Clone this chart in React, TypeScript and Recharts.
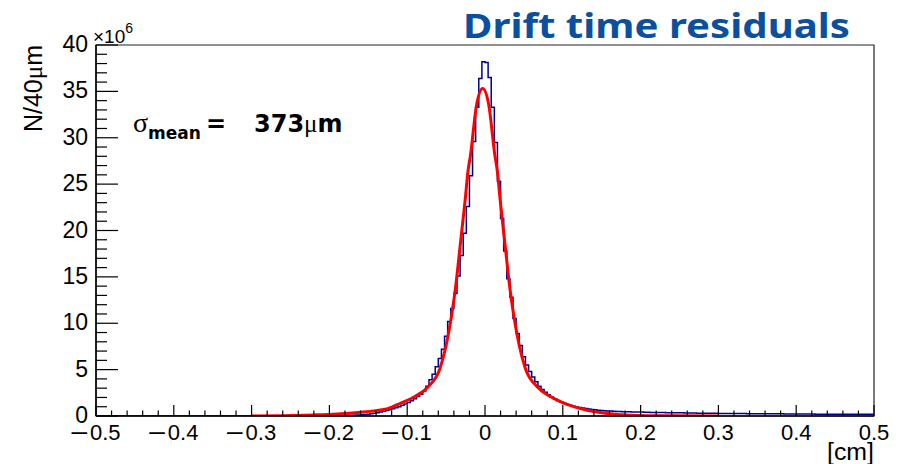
import React from 'react'
import { ComposedChart, Line, XAxis, YAxis, ReferenceArea } from 'recharts'

// histogram: 250 bins of 40um from -0.5 to 0.5 cm, counts in units of 1e6
const binWidth = 0.004
const histStart = -0.5
const histCounts = [
  0, 0, 0, 0, 0, 0, 0, 0, 0, 0,
  0, 0, 0, 0, 0, 0, 0, 0, 0, 0,
  0, 0, 0, 0, 0, 0, 0, 0, 0, 0,
  0, 0, 0, 0, 0, 0, 0, 0, 0, 0,
  0, 0, 0, 0, 0, 0, 0, 0, 0, 0,
  0, 0, 0, 0, 0, 0, 0, 0, 0, 0,
  0.01, 0.01, 0.01, 0.01, 0.01, 0.01, 0.01, 0.01, 0.01, 0.01,
  0.02, 0.02, 0.02, 0.02, 0.02, 0.03, 0.03, 0.04, 0.04, 0.05,
  0.06, 0.07, 0.08, 0.1, 0.12, 0.14, 0.17, 0.2, 0.24, 0.29,
  0.35, 0.42, 0.5, 0.58, 0.68, 0.78, 0.88, 1.0, 1.15, 1.3,
  1.45, 1.65, 1.85, 2.1, 2.35, 2.7, 3.2, 3.9, 4.5, 5.3,
  6.2, 7.2, 8.6, 10.2, 11.6, 13.2, 15.1, 17.3, 19.7, 22.6,
  25.9, 29.6, 33.3, 36.4, 38.2, 38.1, 36.5, 33.3, 29.5, 25.3,
  21.3, 17.8, 14.8, 12.8, 10.5, 8.9, 7.6, 6.4, 5.5, 4.8,
  4.2, 3.7, 3.2, 2.85, 2.55, 2.3, 2.05, 1.85, 1.65, 1.5,
  1.36, 1.25, 1.15, 1.06, 0.98, 0.91, 0.85, 0.8, 0.75, 0.71,
  0.67, 0.63, 0.6, 0.57, 0.55, 0.53, 0.51, 0.49, 0.48, 0.47,
  0.46, 0.45, 0.44, 0.43, 0.42, 0.42, 0.41, 0.4, 0.39, 0.39,
  0.38, 0.37, 0.37, 0.36, 0.36, 0.35, 0.35, 0.34, 0.34, 0.33,
  0.33, 0.32, 0.32, 0.31, 0.31, 0.3, 0.3, 0.3, 0.29, 0.29,
  0.28, 0.28, 0.28, 0.27, 0.27, 0.27, 0.26, 0.26, 0.26, 0.25,
  0.25, 0.25, 0.25, 0.24, 0.24, 0.24, 0.24, 0.23, 0.23, 0.23,
  0.23, 0.22, 0.22, 0.22, 0.22, 0.22, 0.21, 0.21, 0.21, 0.21,
  0.21, 0.2, 0.2, 0.2, 0.2, 0.2, 0.2, 0.19, 0.19, 0.19,
  0.19, 0.19, 0.19, 0.18, 0.18, 0.18, 0.18, 0.18, 0.18, 0.18,
]

// fit curve
const fitX = [
  -0.3, -0.26, -0.22, -0.19, -0.16, -0.14, -0.125, -0.108, -0.09, -0.073,
  -0.058, -0.05, -0.043, -0.0372, -0.0325, -0.0255, -0.0217, -0.0187, -0.0109, -0.003,
  0.0049, 0.0127, 0.0157, 0.0195, 0.0265, 0.0312, 0.037, 0.044, 0.052, 0.067,
  0.084, 0.1, 0.115, 0.13, 0.15, 0.17, 0.195, 0.24, 0.3,
]
const fitY = [
  0, 0.04, 0.12, 0.22, 0.4, 0.58, 0.8, 1.4, 2.1, 3.16,
  5.1, 7.6, 10.8, 14.3, 17.9, 23.3, 26.5, 28.1, 33.5, 35.3,
  33.5, 28.1, 26.5, 23.3, 17.9, 14.3, 10.8, 7.6, 5.1, 3.16,
  2.1, 1.45, 0.98, 0.65, 0.34, 0.16, 0.06, 0.02, 0,
]

const xTicks = Array.from({ length: 51 }, (_, i) => Math.round((-0.5 + i * 0.02) * 100) / 100)
const yTicks = Array.from({ length: 41 }, (_, i) => i)

const histData = histCounts.map((v, i) => ({ x: +(histStart + i * binWidth).toFixed(3), y: v }))
histData.push({ x: 0.5, y: histCounts[histCounts.length - 1] })
const fitData = fitX.map((x, i) => ({ x, y: fitY[i] }))

const font = '"Liberation Sans", Arial, Helvetica, sans-serif'
const wide = '"DejaVu Sans", sans-serif'
const serif = '"Liberation Serif", serif'

function XTick({ x, y, payload }: any) {
  const v = payload.value
  const major = Math.abs(Math.round(v * 10) - v * 10) < 1e-6
  const neg = v < -1e-9
  const body = Math.abs(v) < 1e-9 ? '0' : Math.abs(v).toFixed(1)
  return (
    <g>
      <line x1={x} y1={y} x2={x} y2={y - (major ? 11 : 5.5)} stroke="#000" strokeWidth={1.2} />
      {major && (
        <text x={x} y={y + 24} textAnchor="middle" fontSize={22} fontFamily={font} fill="#000">
          {neg && <tspan fontSize={28}>{'\u2013'}</tspan>}
          <tspan dx={neg ? 3 : 0}>{body}</tspan>
        </text>
      )}
    </g>
  )
}

function YTick({ x, y, payload }: any) {
  const v = payload.value
  const major = v % 5 === 0
  return (
    <g>
      <line x1={x} y1={y} x2={x + (major ? 22 : 11)} y2={y} stroke="#000" strokeWidth={1.2} />
      {major && (
        <text x={x - 8} y={y + 7} textAnchor="end" fontSize={23} fontFamily={font} fill="#000">
          {v}
        </text>
      )}
    </g>
  )
}

export default function App() {
  return (
    <div style={{ position: 'absolute', left: 0, top: 0, width: 913, height: 464, background: '#fff' }}>
      <ComposedChart width={913} height={464} margin={{ top: 45, right: 39, bottom: 0, left: 0 }}>
        <XAxis
          dataKey="x"
          type="number"
          domain={[-0.5, 0.5]}
          ticks={xTicks}
          interval={0}
          height={48}
          tickSize={0}
          tickMargin={0}
          tick={<XTick />}
          axisLine={{ stroke: '#000', strokeWidth: 1.5 }}
          allowDataOverflow
        />
        <YAxis
          type="number"
          domain={[0, 40]}
          ticks={yTicks}
          interval={0}
          width={96}
          tickSize={0}
          tickMargin={0}
          tick={<YTick />}
          axisLine={{ stroke: '#000', strokeWidth: 1.5 }}
          allowDataOverflow
        />
        <ReferenceArea x1={-0.5} x2={0.5} y1={0} y2={40} fill="none" stroke="#222" strokeWidth={1.2} ifOverflow="visible" />
        <Line
          data={histData}
          dataKey="y"
          type="stepAfter"
          stroke="#000096"
          strokeWidth={1.5}
          dot={false}
          isAnimationActive={false}
        />
        <Line
          data={fitData}
          dataKey="y"
          type="monotone"
          stroke="#ff0000"
          strokeWidth={3}
          dot={false}
          isAnimationActive={false}
        />
      </ComposedChart>
      <svg width={913} height={464} style={{ position: 'absolute', left: 0, top: 0, pointerEvents: 'none' }}>
        <text
          x={463}
          y={38}
          fontSize={34}
          fontWeight="bold"
          fontFamily='"Noto Sans", sans-serif'
          fill="#0b4f9f"
          textLength={387}
          lengthAdjust="spacingAndGlyphs"
        >
          Drift time residuals
        </text>
        <text x={93} y={43} fontSize={19} fontFamily={font} fill="#000">
          ×10<tspan fontSize={14} dy={-10}>6</tspan>
        </text>
        <text transform="translate(42,45) rotate(-90)" textAnchor="end" fontSize={25} fontFamily={font} fill="#000">
          N/40<tspan fontFamily={serif}>μ</tspan>m
        </text>
        <text x={874} y={460} textAnchor="end" fontSize={23} fontFamily={font} fill="#000" textLength={47} lengthAdjust="spacingAndGlyphs">
          [cm]
        </text>
        <text x={133} y={132} fill="#000">
          <tspan fontSize={28} fontFamily={serif}>σ</tspan>
          <tspan fontSize={17} fontWeight="bold" fontFamily={wide} dy={7}>mean</tspan>
          <tspan x={206} dy={-7} fontSize={24} fontWeight="bold" fontFamily={wide}>=</tspan>
          <tspan x={254} fontSize={24} fontWeight="bold" fontFamily={wide}>373</tspan>
          <tspan fontSize={25} fontFamily={serif}>μ</tspan>
          <tspan fontSize={24} fontWeight="bold" fontFamily={wide}>m</tspan>
        </text>
      </svg>
    </div>
  )
}
